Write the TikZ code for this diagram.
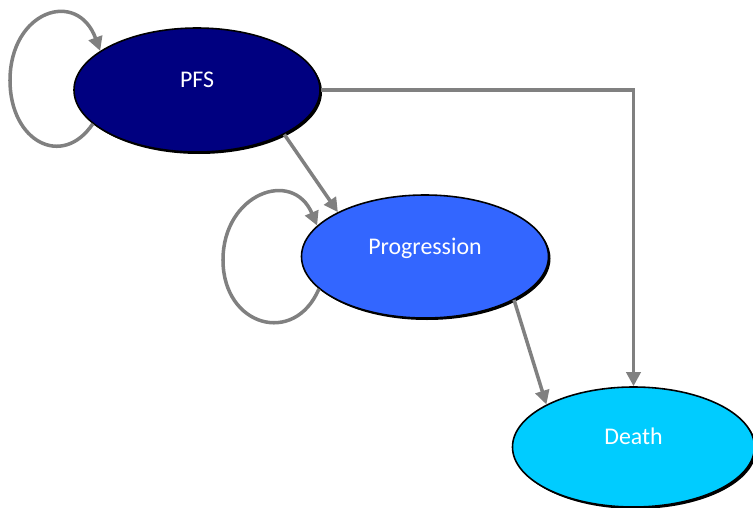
\documentclass[tikz,border=0pt]{standalone}
\usepackage{fontspec}
\setmainfont{Carlito}
\usetikzlibrary{shapes.geometric, arrows.meta, shadows}
\usepackage{xcolor}
\definecolor{pfsblue}{RGB}{0,0,128}
\definecolor{progblue}{RGB}{51,102,255}
\definecolor{deathblue}{RGB}{0,204,255}
\definecolor{arrowgray}{RGB}{128,128,128}

\begin{document}
\begin{tikzpicture}[
        statenode/.style={ellipse, draw=black, line width=0.9pt, text=white, font=\fontsize{13.6}{16}\selectfont, text height=0.35cm, text depth=0.45cm, drop shadow={shadow xshift=0.04cm, shadow yshift=-0.04cm, fill=black, opacity=1}},
        arrow/.style={-{Triangle[length=0.28cm, width=0.28cm]}, line width=2pt, draw=arrowgray}
    ]
    \useasboundingbox (0,0) rectangle (15.06,-10.16);

    % The States
    \node (pfs) [statenode, fill=pfsblue, minimum width=4.92cm, minimum height=2.48cm] at (3.94,-1.80) {PFS};
    \node (prog) [statenode, fill=progblue, minimum width=4.94cm, minimum height=2.46cm] at (8.50,-5.13) {Progression};
    \node (death) [statenode, fill=deathblue, minimum width=4.84cm, minimum height=2.40cm] at (12.67,-8.94) {Death};

    % Turning points of the loops
    \coordinate (pfsloop) at (0.20,-1.61);
    \coordinate (progloop) at (4.46,-5.20);

    % The Transitions
    \draw [arrow] (pfs.198) to[out=236, in=270, out distance=1.09cm, in distance=1.22cm] (pfsloop) to[out=90, in=110, out distance=1.4cm, in distance=1.33cm] (pfs.158);
    \draw [arrow] (prog.197) to[out=247, in=270, out distance=1.25cm, in distance=1.33cm] (progloop) to[out=90, in=113, out distance=1.33cm, in distance=1.25cm] (prog.164);
    \draw [arrow] (pfs.-27) -- (prog.153);
    \draw [arrow] (pfs.east) -| (death.north);
    \draw [arrow] (prog.-26) -- (death.154);

\end{tikzpicture}
\end{document}
